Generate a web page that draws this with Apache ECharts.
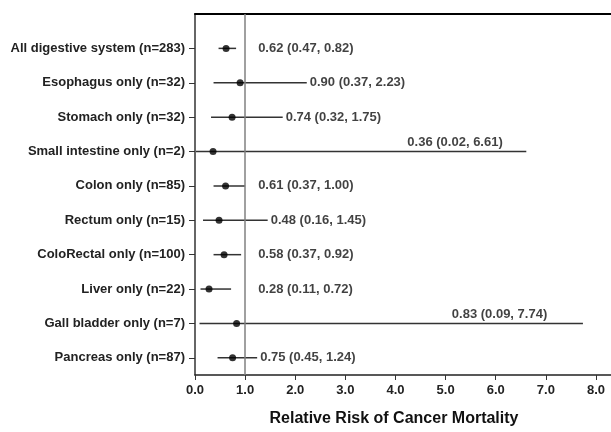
<!DOCTYPE html>
<html>
<head>
<meta charset="utf-8">
<script src="https://cdn.jsdelivr.net/npm/echarts@6/dist/echarts.min.js"></script>
<style>
  html, body { margin: 0; padding: 0; background: #fff; }
  #chart { width: 611px; height: 432px; }
</style>
</head>
<body>
<div id="chart"></div>
<script>
// forest plot data
const sites = [
  'All digestive system (n=283)',
  'Esophagus only (n=32)',
  'Stomach only (n=32)',
  'Small intestine only (n=2)',
  'Colon only (n=85)',
  'Rectum only (n=15)',
  'ColoRectal only (n=100)',
  'Liver only (n=22)',
  'Gall bladder only (n=7)',
  'Pancreas only (n=87)'
]
const rr = [0.62, 0.90, 0.74, 0.36, 0.61, 0.48, 0.58, 0.28, 0.83, 0.75]
const lower = [0.47, 0.37, 0.32, 0.02, 0.37, 0.16, 0.37, 0.11, 0.09, 0.45]
const upper = [0.82, 2.23, 1.75, 6.61, 1.00, 1.45, 0.92, 0.72, 7.74, 1.24]
const xTicks = [0, 1, 2, 3, 4, 5, 6, 7, 8]

const FONT = '"Liberation Sans", Arial, Helvetica, sans-serif'
const rows = sites.map((_, i) => i)
const fmt = v => v.toFixed(2)
const labelText = i => `${fmt(rr[i])} (${fmt(lower[i])}, ${fmt(upper[i])})`

// labels sit right of the bar, except very wide bars get them on top
const labelsRight = []
const labelsTop = []
rows.forEach(i => {
  if (upper[i] > 5) {
    labelsTop.push({ value: [upper[i] * 0.785, i], text: labelText(i) })
  } else {
    labelsRight.push({ value: [Math.max(upper[i], 1.2), i], text: labelText(i) })
  }
})

const chart = echarts.init(document.getElementById('chart'))

const option = {
  animation: false,
  grid: { left: 195, right: 0, top: 14, bottom: 51 },
  xAxis: [
    {
      type: 'value',
      min: 0,
      max: 8.3,
      interval: 1,
      name: 'Relative Risk of Cancer Mortality',
      nameLocation: 'middle',
      nameGap: 36,
      nameTextStyle: {
        fontFamily: FONT,
        fontWeight: 'bold',
        fontSize: 16,
        color: '#111',
        padding: [0, 18, 0, 0]
      },
      axisLine: { onZero: false, lineStyle: { color: '#222', width: 1.5 } },
      axisTick: { customValues: xTicks, length: 5, lineStyle: { color: '#333' } },
      axisLabel: {
        customValues: xTicks,
        formatter: v => v.toFixed(1),
        fontFamily: FONT,
        fontWeight: 'bold',
        fontSize: 13,
        color: '#222',
        margin: 9
      },
      splitLine: { show: false }
    },
    {
      type: 'value',
      position: 'top',
      min: 0,
      max: 8.3,
      axisLine: { show: true, onZero: false, lineStyle: { color: '#000', width: 2 } },
      axisTick: { show: false },
      axisLabel: { show: false },
      splitLine: { show: false }
    }
  ],
  yAxis: {
    type: 'value',
    inverse: true,
    min: -1,
    max: 9.5,
    axisLine: { show: true, onZero: false, lineStyle: { color: '#333', width: 1.5 } },
    axisTick: { customValues: rows, length: 6, lineStyle: { color: '#333' } },
    axisLabel: {
      customValues: rows,
      formatter: v => sites[v],
      fontFamily: FONT,
      fontWeight: 'bold',
      fontSize: 13,
      color: '#222',
      margin: 10
    },
    splitLine: { show: false }
  },
  series: [
    {
      // confidence interval bars
      type: 'custom',
      data: rows.map(i => [lower[i], upper[i], i]),
      renderItem: (params, api) => {
        const a = api.coord([api.value(0), api.value(2)])
        const b = api.coord([api.value(1), api.value(2)])
        return {
          type: 'line',
          shape: { x1: a[0], y1: a[1], x2: b[0], y2: b[1] },
          style: { stroke: '#333', lineWidth: 1.5 }
        }
      },
      z: 2
    },
    {
      // point estimates
      type: 'scatter',
      data: rows.map(i => [rr[i], i]),
      symbol: 'circle',
      symbolSize: 7,
      itemStyle: { color: '#000' },
      z: 3,
      markLine: {
        silent: true,
        symbol: 'none',
        label: { show: false },
        lineStyle: { color: '#808080', width: 1.5, type: 'solid' },
        data: [{ xAxis: 1 }]
      }
    },
    {
      type: 'scatter',
      data: labelsRight,
      symbolSize: 0,
      silent: true,
      label: {
        show: true,
        position: 'right',
        distance: 3,
        formatter: p => p.data.text,
        fontFamily: FONT,
        fontWeight: 'bold',
        fontSize: 13,
        color: '#111'
      }
    },
    {
      type: 'scatter',
      data: labelsTop,
      symbolSize: 0,
      silent: true,
      label: {
        show: true,
        position: 'top',
        distance: 3,
        formatter: p => p.data.text,
        fontFamily: FONT,
        fontWeight: 'bold',
        fontSize: 13,
        color: '#111'
      }
    }
  ]
}

chart.setOption(option)
</script>
</body>
</html>
